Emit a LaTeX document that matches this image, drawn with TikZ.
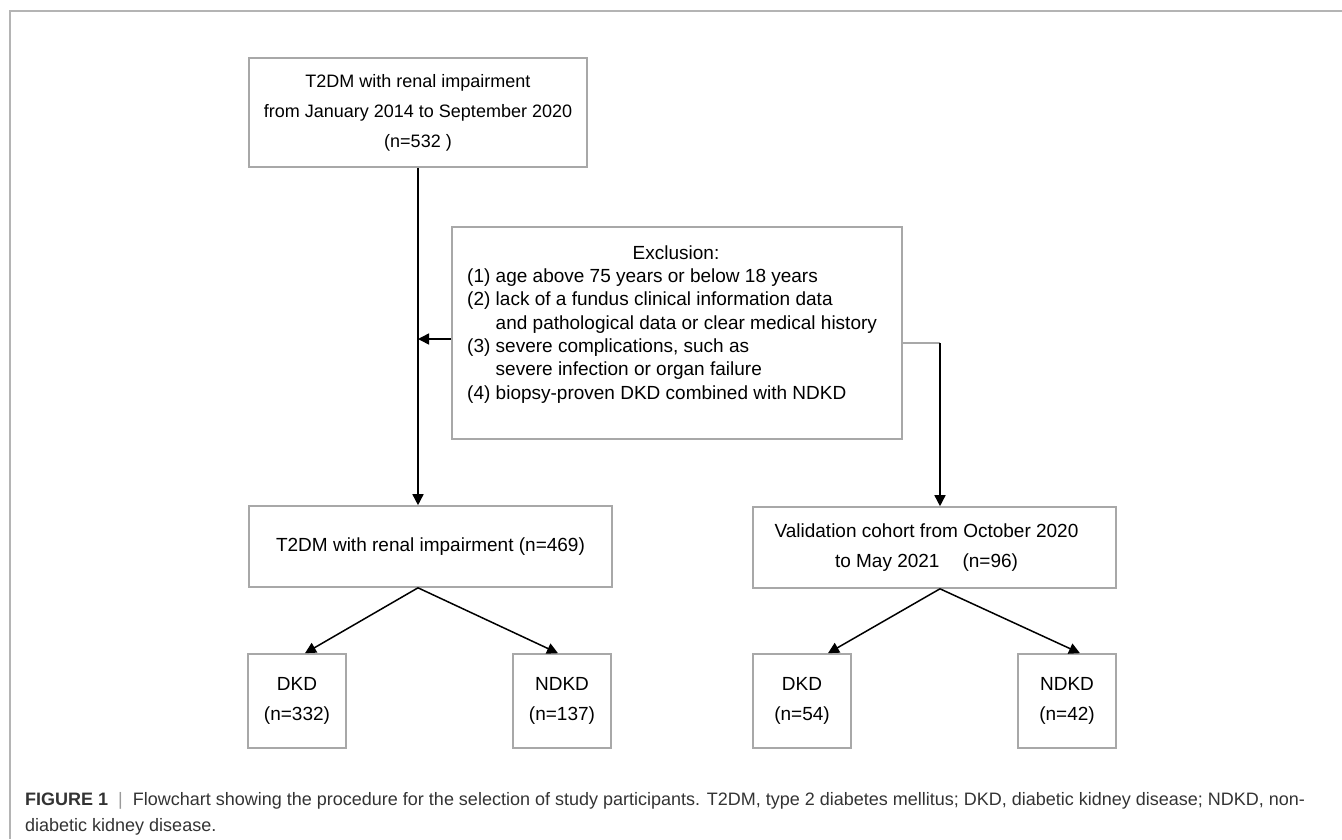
\documentclass[tikz,border=0pt]{standalone}
\usepackage{fontspec}
\setmainfont{Liberation Sans}
\usepackage{xcolor}
\usetikzlibrary{arrows.meta, positioning, calc}
\definecolor{boxgray}{HTML}{A8A8A8}
\definecolor{framegray}{HTML}{B4B4B4}
\definecolor{capgray}{HTML}{333333}
\definecolor{bargray}{HTML}{9A9A9A}

\begin{document}
\begin{tikzpicture}[x=1pt, y=-1pt,
    every node/.style={font=\fontsize{19}{30}\selectfont},
    box/.style={draw=boxgray, line width=1.6pt, inner sep=0pt, align=center},
    arr/.style={line width=1.5pt, -{Triangle[length=11pt, width=11pt]}}]
    \useasboundingbox (0,0) rectangle (1342,839);

    % Rahmen
    \draw[framegray, line width=1.5pt] (10,839) -- (10,11) -- (1342,11);

    % Ausgangskollektiv
    \node[box, minimum width=338pt, minimum height=109pt, font=\fontsize{18}{30}\selectfont] (all) at (418,112.5)
        {T2DM with renal impairment\\from January 2014 to September 2020\\(n=532 )};

    % Ausschluss
    \node[box, minimum width=450pt, minimum height=212pt] (excl) at (677,333) {};
    \node[font=\fontsize{19}{23.3}\selectfont] (exclhead) at (676,253) {Exclusion:};
    \node[font=\fontsize{19}{23.3}\selectfont, align=left, anchor=west] (excllist) at (463.7,336)
        {(1) age above 75 years or below 18 years\\
         (2) lack of a fundus clinical information data\\
         \hphantom{(2)}\ and pathological data or clear medical history\\
         (3) severe complications, such as\\
         \hphantom{(3)}\ severe infection or organ failure\\
         (4) biopsy-proven DKD combined with NDKD};

    % zweite Ebene
    \node[box, minimum width=363pt, minimum height=81pt] (t2dm) at (430.5,546.5)
        {T2DM with renal impairment (n=469)};
    \node[box, minimum width=363pt, minimum height=81pt] (valid) at (934.5,547.5)
        {Validation cohort from October 2020\hspace*{16pt}\\to May 2021\hspace{23pt}(n=96)\hspace*{16pt}};

    \coordinate (exclL) at ([yshift=-6pt]excl.west);
    \coordinate (exclR) at ([yshift=-10pt]excl.east);
    \coordinate (bend) at (940,343);

    \draw[arr] (all.south) -- (all.south |- t2dm.north);
    \draw[arr] (exclL) -- (all.south |- exclL);
    \draw[boxgray, line width=1.6pt] (exclR) -- (bend);
    \draw[arr] (bend) -- (bend |- valid.north);

    % dritte Ebene
    \node[box, minimum width=98pt, minimum height=94pt] (dkd1) at (297,701) {DKD\\(n=332)};
    \node[box, minimum width=98pt, minimum height=94pt] (ndkd1) at (562,701) {NDKD\\(n=137)};
    \node[box, minimum width=98pt, minimum height=94pt] (dkd2) at (802,701) {DKD\\(n=54)};
    \node[box, minimum width=98pt, minimum height=94pt] (ndkd2) at (1067,701) {NDKD\\(n=42)};

    \coordinate (split1) at (all.south |- t2dm.south);
    \coordinate (split2) at (bend |- valid.south);

    \draw[arr] (split1) -- ([xshift=8pt]dkd1.north);
    \draw[arr] (split1) -- ([xshift=-4pt]ndkd1.north);
    \draw[arr] (split2) -- ([xshift=26pt]dkd2.north);
    \draw[arr] (split2) -- ([xshift=13pt]ndkd2.north);

    % Legende
    \node[font=\fontsize{18}{26.7}\selectfont, text=capgray, align=left, anchor=north west,
        inner sep=0pt] (caption) at (25,792)
        {\textbf{FIGURE 1}\ \ {\color{bargray}|}\ \ Flowchart showing the procedure for the selection of study participants. T2DM, type 2 diabetes mellitus; DKD, diabetic kidney disease; NDKD, non-\\
         diabetic kidney disease.};
\end{tikzpicture}
\end{document}
